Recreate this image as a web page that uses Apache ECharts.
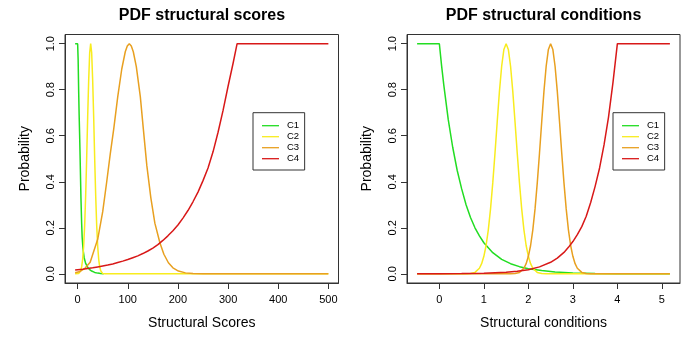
<!DOCTYPE html>
<html><head><meta charset="utf-8">
<script src="https://cdn.jsdelivr.net/npm/echarts@6/dist/echarts.min.js"></script>
<style>html,body{margin:0;padding:0;background:#fff}#c{width:700px;height:341px}</style>
</head><body><div id="c"></div>
<script>
const seriesNames = ['C1', 'C2', 'C3', 'C4'];
const scoresXTicks = [0, 100, 200, 300, 400, 500];
const conditionsXTicks = [0, 1, 2, 3, 4, 5];
const yTicks = [0, 0.2, 0.4, 0.6, 0.8, 1.0];

// PDF structural scores  [x, probability]
const scoresC1 = [[-5,1],[0,1],[1,0.93],[2,0.8],[3,0.69],[4,0.6],[5,0.5],[6.6,0.33],[8,0.22],[9,0.16],[10.6,0.11],[13,0.07],[16,0.045],[20,0.028],[24,0.018],[28,0.012],[34,0.006],[40,0.003],[46,0.001],[52,0]];
const scoresC2 = [[-5,0],[2,0.001],[4,0.005],[6,0.013],[8,0.03],[10,0.063],[12,0.12],[14,0.21],[16,0.34],[18,0.5],[20,0.68],[22,0.84],[24,0.96],[26,1],[28,0.96],[30,0.84],[32,0.68],[34,0.5],[36,0.34],[38,0.21],[40,0.12],[42,0.063],[44,0.03],[46,0.013],[48,0.005],[50,0.001],[55,0],[500,0]];
const scoresC3 = [[-5,0.005],[5,0.01],[15,0.025],[25,0.05],[31,0.09],[40,0.15],[50,0.27],[58,0.4],[65,0.52],[72,0.63],[80,0.77],[88,0.89],[95,0.965],[99,0.99],[103,1],[107,0.99],[111,0.965],[117,0.9],[125,0.77],[131,0.63],[138,0.47],[146,0.33],[154,0.22],[164,0.135],[172,0.085],[181,0.048],[190,0.026],[201,0.012],[215,0.004],[230,0.001],[250,0],[500,0]];
const scoresC4 = [[-5,0.017],[10,0.02],[20,0.023],[30,0.026],[40,0.03],[50,0.034],[60,0.038],[70,0.043],[80,0.049],[90,0.055],[100,0.062],[110,0.07],[120,0.078],[130,0.088],[140,0.099],[150,0.112],[160,0.127],[170,0.145],[180,0.165],[190,0.187],[200,0.212],[210,0.242],[220,0.275],[230,0.313],[240,0.355],[250,0.405],[260,0.46],[270,0.53],[280,0.615],[290,0.71],[300,0.815],[310,0.915],[318,1],[500,1]];

// PDF structural conditions  [x, probability]
const condC1 = [[-0.5,1],[0,1],[0.05,0.905],[0.1,0.82],[0.2,0.67],[0.3,0.55],[0.4,0.45],[0.5,0.37],[0.6,0.3],[0.7,0.245],[0.8,0.2],[0.9,0.165],[1.0,0.135],[1.2,0.092],[1.4,0.063],[1.6,0.044],[1.8,0.031],[2.0,0.022],[2.3,0.014],[2.6,0.008],[3.0,0.004],[3.5,0.0015],[4.0,0.0005],[4.5,0.0002],[5.18,0]];
const condC2 = [[-0.5,0],[0.6,0],[0.7,0.001],[0.8,0.006],[0.9,0.024],[0.95,0.044],[1.0,0.076],[1.05,0.123],[1.1,0.191],[1.15,0.282],[1.2,0.395],[1.25,0.524],[1.3,0.661],[1.35,0.793],[1.4,0.902],[1.45,0.975],[1.5,1],[1.55,0.975],[1.6,0.902],[1.65,0.793],[1.7,0.661],[1.75,0.524],[1.8,0.395],[1.85,0.282],[1.9,0.191],[1.95,0.123],[2.0,0.076],[2.05,0.044],[2.1,0.024],[2.2,0.006],[2.3,0.001],[2.4,0],[5.18,0]];
const condC3 = [[-0.5,0],[1.6,0],[1.7,0.001],[1.8,0.006],[1.9,0.024],[1.95,0.044],[2.0,0.076],[2.05,0.123],[2.1,0.191],[2.15,0.282],[2.2,0.395],[2.25,0.524],[2.3,0.661],[2.35,0.793],[2.4,0.902],[2.45,0.975],[2.5,1],[2.55,0.975],[2.6,0.902],[2.65,0.793],[2.7,0.661],[2.75,0.524],[2.8,0.395],[2.85,0.282],[2.9,0.191],[2.95,0.123],[3.0,0.076],[3.05,0.044],[3.1,0.024],[3.2,0.006],[3.3,0.001],[3.4,0],[5.18,0]];
const condC4 = [[-0.5,0],[0,0.0003],[0.5,0.0009],[1.0,0.0025],[1.5,0.007],[1.75,0.011],[2.0,0.018],[2.25,0.03],[2.5,0.05],[2.65,0.068],[2.8,0.093],[2.9,0.115],[3.0,0.14],[3.1,0.17],[3.2,0.205],[3.3,0.25],[3.4,0.31],[3.5,0.38],[3.6,0.46],[3.7,0.56],[3.8,0.68],[3.9,0.83],[4.0,1],[5.18,1]];

const colors = ['#22dd22', '#f8ec1e', '#e8a020', '#d81818'];
const FONT = "'Liberation Sans', Arial, sans-serif";

const chart = echarts.init(document.getElementById('c'), null, {renderer: 'canvas'});

function xAxisDef(gridIndex, min, max, ticks, name) {
  return {
    type: 'value', gridIndex, min, max, name,
    nameLocation: 'middle', nameGap: 33,
    nameTextStyle: {fontFamily: FONT, fontSize: 14, color: '#000'},
    axisLine: {show: true, onZero: false, lineStyle: {color: '#333', width: 1}},
    axisTick: {show: true, inside: false, length: 6, customValues: ticks, lineStyle: {color: '#333'}},
    axisLabel: {show: true, customValues: ticks, margin: 11, fontFamily: FONT, fontSize: 11, color: '#000'},
    splitLine: {show: false}
  };
}
function yAxisDef(gridIndex) {
  return {
    type: 'value', gridIndex, min: -0.04, max: 1.04, name: 'Probability',
    nameLocation: 'middle', nameGap: 33,
    nameTextStyle: {fontFamily: FONT, fontSize: 14, color: '#000'},
    axisLine: {show: true, onZero: false, lineStyle: {color: '#333', width: 1}},
    axisTick: {show: true, inside: false, length: 6, customValues: yTicks, lineStyle: {color: '#333'}},
    axisLabel: {show: true, customValues: yTicks, rotate: 90, margin: 9, fontFamily: FONT, fontSize: 11, color: '#000',
      formatter: v => v.toFixed(1)},
    splitLine: {show: false}
  };
}
function legendDef(left) {
  return {
    show: true, orient: 'vertical', left, top: 112.7, data: seriesNames,
    selectedMode: false, icon: 'rect', itemWidth: 17, itemHeight: 1.3, itemGap: 0,
    padding: [7.5, 5.5, 5.8, 9],
    borderColor: '#333', borderWidth: 1, borderRadius: 0, backgroundColor: '#fff',
    textStyle: {fontFamily: FONT, fontSize: 9.5, color: '#000', lineHeight: 11, padding: [0, 0, 0, 3]}
  };
}
const datasets = [[scoresC1, scoresC2, scoresC3, scoresC4], [condC1, condC2, condC3, condC4]];
const series = [];
datasets.forEach((set, g) => {
  set.forEach((d, i) => {
    series.push({
      type: 'line', name: seriesNames[i], xAxisIndex: g, yAxisIndex: g, data: d,
      showSymbol: false, symbol: 'none', smooth: false, animation: false,
      lineStyle: {color: colors[i], width: 1.5}, itemStyle: {color: colors[i]},
      z: 2 + i
    });
  });
});

chart.setOption({
  animation: false,
  backgroundColor: '#fff',
  title: [
    {text: 'PDF structural scores', left: 202, top: 8, textAlign: 'center', padding: 0,
     textStyle: {fontFamily: FONT, fontSize: 16, fontWeight: 'bold', color: '#000'}},
    {text: 'PDF structural conditions', left: 543.5, top: 8, textAlign: 'center', padding: 0,
     textStyle: {fontFamily: FONT, fontSize: 16, fontWeight: 'bold', color: '#000'}}
  ],
  grid: [
    {left: 65, top: 34.5, width: 273.5, height: 248.5, show: true, borderColor: '#333', borderWidth: 1, backgroundColor: 'transparent'},
    {left: 407, top: 34.5, width: 273, height: 248.5, show: true, borderColor: '#333', borderWidth: 1, backgroundColor: 'transparent'}
  ],
  xAxis: [
    xAxisDef(0, -25.2, 520.2, scoresXTicks, 'Structural Scores'),
    xAxisDef(1, -0.727, 5.407, conditionsXTicks, 'Structural conditions')
  ],
  yAxis: [yAxisDef(0), yAxisDef(1)],
  legend: [legendDef(253), legendDef(613)],
  series
});
</script></body></html>
